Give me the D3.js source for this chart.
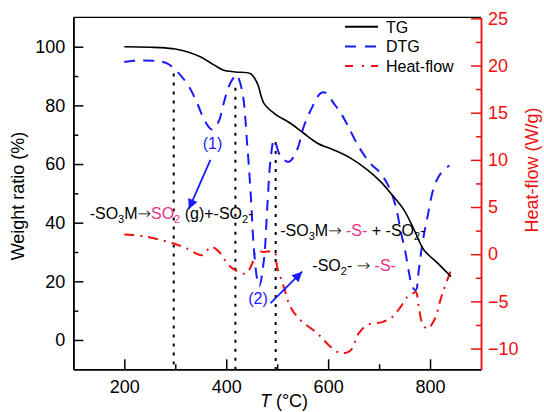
<!DOCTYPE html>
<html><head><meta charset="utf-8">
<script src="https://cdn.jsdelivr.net/npm/d3@7"></script>
<style>
body{margin:0;background:#fff;}
svg{display:block;font-family:"Liberation Sans",Arial,sans-serif;}
</style></head>
<body><svg id="c" width="544" height="412"></svg>
<script>
// ---- data ----
const tgT = [200,251,271,300,323,349,376,395,418,448,461,474,494,526,552,579,611,644,677,703,726,749,769,788,815,841];
const tgV = [100,99.8,99.7,99.2,98.3,96.6,93.8,92.0,91.4,90.8,87.5,80.7,77.3,73.9,70.5,67.1,64.8,62.0,58.0,54.0,49.4,44.3,37.5,30.7,26.2,21.6];

const dtgT = [200,218,257,284,307,327,343,359,372,385,395,405,415,420,431,441,448,454,461,465,474,481,487,494,507,523,539,552,569,585,595,611,625,638,660,683,703,719,733,742,752,759,765,772,778,785,795,808,821,838];
const dtgV = [94.8,95.2,95.2,94.3,90.9,86.4,80.7,74.4,71.8,74.4,80.7,86.4,89.6,90.4,85.2,67.1,50.0,31.8,20.5,18.4,27.3,46.6,61.4,68.2,62.5,60.8,64.8,72.7,79.5,84.1,84.3,80.7,77.3,73.3,65.9,60.2,56.8,52.3,45.4,37.5,29.6,22.7,18.2,17.0,23.9,33.0,42.0,52.3,56.8,59.5];

const hfT = [200,245,297,323,353,366,372,389,402,418,438,451,458,474,494,500,513,526,546,579,605,625,644,660,677,706,726,742,756,765,772,778,785,795,808,824,841];
const hfV = [2.09,1.83,1.13,0.6,-0.1,0.6,0.77,0.07,-0.99,-1.7,-2.05,-0.99,0.24,0.24,0.24,-1.35,-3.47,-5.59,-7.0,-8.4,-9.83,-10.5,-10.2,-8.4,-7.5,-7.2,-6.65,-5.6,-4.5,-4.2,-4.0,-5.6,-7.35,-7.9,-7.0,-4.2,-1.7];

const vlineT = [297, 418, 497];
const vlineTop = [90.9, 86.0, 67.5];

const xTicks = [200,400,600,800];
const xMinor = [300,500,700];
const yTicks = [0,20,40,60,80,100];
const yMinor = [10,30,50,70,90];
const y2Ticks = [-10,-5,0,5,10,15,20,25];
const y2Minor = [-7.5,-2.5,2.5,7.5,12.5,17.5,22.5];
const legendLabels = ["TG","DTG","Heat-flow"];

// ---- layout ----
const L = 73.35, R = 481, T = 17.4, B = 369.3;
const RED = "#f01010", BLUE = "#1a1aff", PINK = "#e6318d";
const ARROWFONT = "DejaVu Sans, sans-serif";
const svg = d3.select("#c");
const x = d3.scaleLinear().domain([100,900]).range([L,R]);
const y = d3.scaleLinear().domain([-10,110]).range([B,T]);
const y2 = d3.scaleLinear().domain([-12.2,25.1]).range([B,T]);

// frame top
svg.append("line").attr("x1",L).attr("x2",R).attr("y1",T).attr("y2",T).attr("stroke","#000").attr("stroke-width",1.3);

function styleAxis(g, color){
  g.select(".domain").attr("stroke",color).attr("stroke-width",1.5);
  g.selectAll(".tick line").attr("stroke",color).attr("stroke-width",1.5);
  g.selectAll(".tick text").attr("fill",color).attr("font-size","18px").attr("font-family","Liberation Sans, Arial, sans-serif");
}
// x axis
let gx = svg.append("g").attr("transform",`translate(0,${B})`)
  .call(d3.axisBottom(x).tickValues(xTicks).tickSizeInner(-10).tickSizeOuter(0).tickPadding(11));
styleAxis(gx,"#000");
let gxm = svg.append("g").attr("transform",`translate(0,${B})`)
  .call(d3.axisBottom(x).tickValues(xMinor).tickSizeInner(-5).tickSizeOuter(0).tickFormat(""));
styleAxis(gxm,"#000");
// left axis
let gy = svg.append("g").attr("transform",`translate(${L},0)`)
  .call(d3.axisLeft(y).tickValues(yTicks).tickSizeInner(-10).tickSizeOuter(0).tickPadding(8));
styleAxis(gy,"#000");
let gym = svg.append("g").attr("transform",`translate(${L},0)`)
  .call(d3.axisLeft(y).tickValues(yMinor).tickSizeInner(-5).tickSizeOuter(0).tickFormat(""));
styleAxis(gym,"#000");
// right axis
let gy2 = svg.append("g").attr("transform",`translate(${R},0)`)
  .call(d3.axisRight(y2).tickValues(y2Ticks).tickSizeInner(-10).tickSizeOuter(0).tickPadding(7));
styleAxis(gy2,RED);
let gy2m = svg.append("g").attr("transform",`translate(${R},0)`)
  .call(d3.axisRight(y2).tickValues(y2Minor).tickSizeInner(-5).tickSizeOuter(0).tickFormat(""));
styleAxis(gy2m,RED);

// axis titles
svg.append("text").attr("transform",`translate(24,196) rotate(-90)`).attr("text-anchor","middle")
  .attr("font-size","18px").text("Weight ratio (%)");
svg.append("text").attr("transform",`translate(538,170) rotate(-90)`).attr("text-anchor","middle")
  .attr("font-size","18px").attr("fill",RED).text("Heat-flow (W/g)");
const xt = svg.append("text").attr("x",284).attr("y",407).attr("text-anchor","middle").attr("font-size","18px");
xt.append("tspan").attr("font-style","italic").text("T");
xt.append("tspan").text(" (°C)");

// vertical dotted lines
vlineT.forEach((t,i)=>{
  svg.append("line").attr("x1",x(t)).attr("x2",x(t)).attr("y1",y(vlineTop[i])).attr("y2",B)
    .attr("stroke","#000").attr("stroke-width",2).attr("stroke-dasharray","3,6");
});

const curve = d3.curveCatmullRom.alpha(0.5);
// Heat flow
svg.append("path").datum(hfT.map((t,i)=>[t,hfV[i]]))
  .attr("d",d3.line().x(d=>x(d[0])).y(d=>y2(d[1])).curve(curve))
  .attr("fill","none").attr("stroke",RED).attr("stroke-width",2).attr("stroke-dasharray","10,6,2,6");
// DTG
svg.append("path").datum(dtgT.map((t,i)=>[t,dtgV[i]]))
  .attr("d",d3.line().x(d=>x(d[0])).y(d=>y(d[1])).curve(curve))
  .attr("fill","none").attr("stroke",BLUE).attr("stroke-width",2).attr("stroke-dasharray","11,8");
// TG
svg.append("path").datum(tgT.map((t,i)=>[t,tgV[i]]))
  .attr("d",d3.line().x(d=>x(d[0])).y(d=>y(d[1])).curve(curve))
  .attr("fill","none").attr("stroke","#000").attr("stroke-width",1.6);

// legend
const legStyles = [{c:"#000",d:null},{c:BLUE,d:"11,9"},{c:RED,d:"8,9,2,7"}];
legendLabels.forEach((lab,i)=>{
  const ly = 26.7 + i*19.7;
  const ln = svg.append("line").attr("x1",345).attr("x2",378).attr("y1",ly).attr("y2",ly)
    .attr("stroke",legStyles[i].c).attr("stroke-width",2);
  if(legStyles[i].d) ln.attr("stroke-dasharray",legStyles[i].d);
  svg.append("text").attr("x",386).attr("y",ly+6).attr("font-size","16px").text(lab);
});

// annotations
svg.append("defs").append("marker").attr("id","ah").attr("viewBox","0 0 10 10")
  .attr("refX",10).attr("refY",5).attr("markerWidth",14).attr("markerHeight",10)
  .attr("markerUnits","userSpaceOnUse").attr("orient","auto")
  .append("path").attr("d","M0,0 L10,5 L0,10 z").attr("fill",BLUE);

function arrowSpan(t, s){ t.append("tspan").attr("font-family",ARROWFONT).attr("font-weight","200").text(s); }

// text 1
let t1 = svg.append("text").attr("x",x(132)).attr("y",y(41.1)).attr("font-size","16px");
t1.append("tspan").text("-SO");
t1.append("tspan").attr("font-size","11px").attr("dy",4).text("3");
t1.append("tspan").attr("dy",-4).text("M");
arrowSpan(t1,"→");
t1.append("tspan").attr("fill",PINK).text("SO");
t1.append("tspan").attr("fill",PINK).attr("font-size","11px").attr("dy",4).text("2");
t1.append("tspan").attr("dy",-4).text(" (g)+-SO");
t1.append("tspan").attr("font-size","11px").attr("dy",4).text("2");
t1.append("tspan").attr("dy",-4).text("-");

// text 2
let t2 = svg.append("text").attr("x",x(506)).attr("y",y(35.6)).attr("font-size","16px");
t2.append("tspan").text("-SO");
t2.append("tspan").attr("font-size","11px").attr("dy",4).text("3");
t2.append("tspan").attr("dy",-4).text("M");
arrowSpan(t2,"→");
t2.append("tspan").text(" ");
t2.append("tspan").attr("fill",PINK).text("-S-");
t2.append("tspan").text(" + -SO");
t2.append("tspan").attr("font-size","11px").attr("dy",4).text("2");
t2.append("tspan").attr("dy",-4).text("-");

// text 3
let t3 = svg.append("text").attr("x",x(569)).attr("y",y(23.4)).attr("font-size","16px");
t3.append("tspan").text("-SO");
t3.append("tspan").attr("font-size","11px").attr("dy",4).text("2");
t3.append("tspan").attr("dy",-4).text("- ");
arrowSpan(t3,"→");
t3.append("tspan").text(" ");
t3.append("tspan").attr("fill",PINK).text("-S-");

// labels (1), (2)
svg.append("text").attr("x",x(373)).attr("y",y(65)).attr("text-anchor","middle").attr("font-size","16px").attr("fill",BLUE).text("(1)");
svg.append("text").attr("x",x(462.5)).attr("y",y(12.3)).attr("text-anchor","middle").attr("font-size","16px").attr("fill",BLUE).text("(2)");

// arrows
svg.append("line").attr("x1",x(369)).attr("y1",y(61.4)).attr("x2",x(326.5)).attr("y2",y(44.6))
  .attr("stroke",BLUE).attr("stroke-width",1.8).attr("marker-end","url(#ah)");
svg.append("line").attr("x1",x(487)).attr("y1",y(12.6)).attr("x2",x(549)).attr("y2",y(23.3))
  .attr("stroke",BLUE).attr("stroke-width",1.8).attr("marker-end","url(#ah)");
</script></body></html>
